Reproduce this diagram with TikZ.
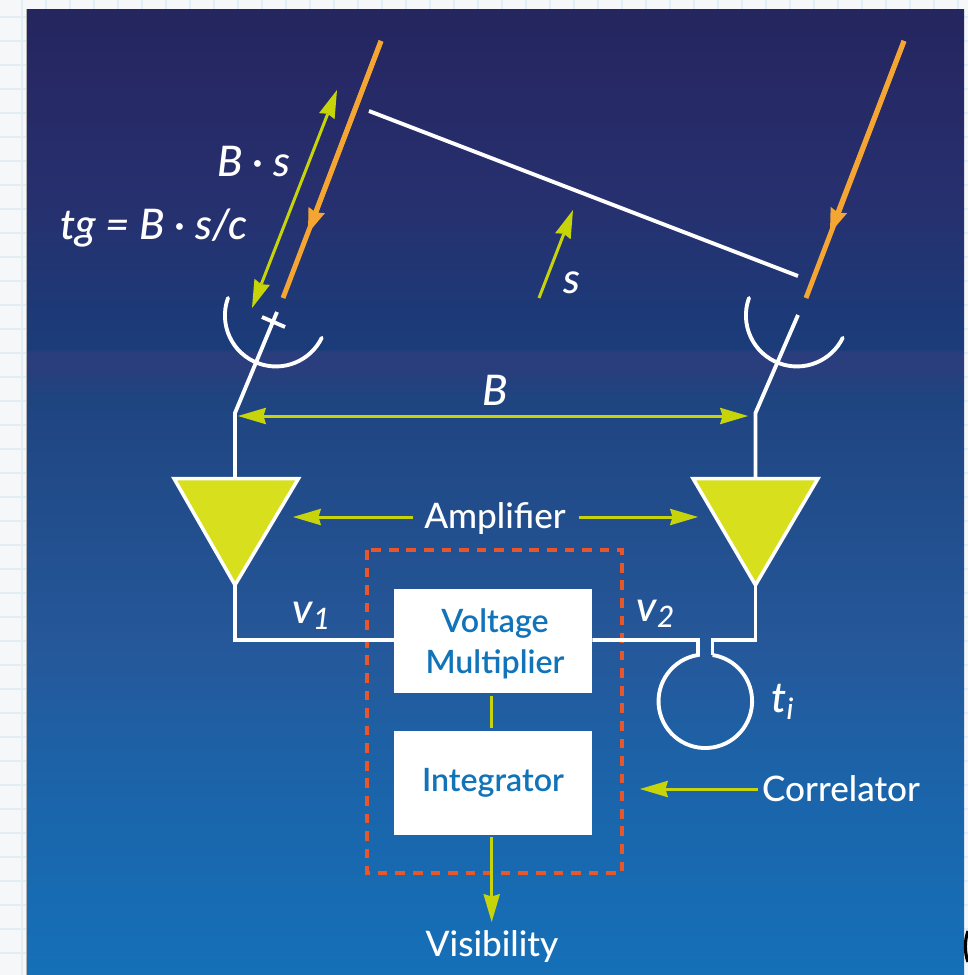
\documentclass[tikz,border=0pt]{standalone}
\usepackage{fontspec}
\setmainfont{Lato Medium}[ItalicFont={Lato Medium Italic}]
\newfontfamily\boxfont{Lato Semibold}
\usetikzlibrary{arrows.meta, positioning}
\definecolor{paperwhite}{RGB}{245, 247, 248}
\definecolor{gridblue}{RGB}{226, 238, 246}
\definecolor{limegreen}{RGB}{200, 212, 10}
\definecolor{ampyellow}{RGB}{216, 223, 28}
\definecolor{rayorange}{RGB}{245, 166, 50}
\definecolor{dashred}{RGB}{232, 86, 42}
\definecolor{boxblue}{RGB}{17, 115, 185}
\definecolor{sky0}{RGB}{37, 37, 95}
\definecolor{sky1}{RGB}{39, 48, 111}
\definecolor{sky2}{RGB}{26, 60, 122}
\definecolor{sky3}{RGB}{42, 61, 124}
\definecolor{sky4}{RGB}{31, 68, 128}
\definecolor{sky5}{RGB}{37, 88, 154}
\definecolor{sky6}{RGB}{26, 101, 171}
\definecolor{sky7}{RGB}{21, 112, 184}
\pgfdeclareverticalshading{panelsky}{100bp}{
  color(0bp)=(sky7); color(25bp)=(sky7); color(34bp)=(sky6); color(42bp)=(sky5);
  color(55bp)=(sky4); color(56.5bp)=(sky3); color(57.25bp)=(sky3); color(57.4bp)=(sky2);
  color(65bp)=(sky1); color(75bp)=(sky0); color(100bp)=(sky0)}
\tikzset{
  wire/.style={draw=white, line width=2.2pt},
  whitetext/.style={text=white, font=\fontsize{20}{23}\selectfont, inner sep=0pt},
  mathtext/.style={text=white, font=\fontsize{24}{27}\selectfont\itshape, inner sep=0pt},
  limetip/.style={arrows={-Stealth[length=16pt, width=9.5pt, inset=1.5pt, line width=0pt, fill=limegreen]}},
  limearrow/.style={draw=limegreen, line width=1.7pt, limetip},
  limeboth/.style={draw=limegreen, line width=1.7pt,
    arrows={Stealth[length=16pt, width=9.5pt, inset=1.5pt, line width=0pt, fill=limegreen]-Stealth[length=16pt, width=9.5pt, inset=1.5pt, line width=0pt, fill=limegreen]}},
  rayline/.style={draw=rayorange, line width=2.8pt},
  rayarrow/.style={rayline, arrows={-Stealth[length=14pt, width=10pt, inset=1.5pt, line width=0pt, fill=rayorange]}},
  ampshape/.style={fill=ampyellow, draw=white, line width=2pt, line join=miter},
  procbox/.style={fill=white, minimum width=198*0.02cm, minimum height=104*0.02cm, inner sep=0pt,
    align=center, text=boxblue, font=\fontsize{18.3}{23}\selectfont\boxfont}
}
\begin{document}
\begin{tikzpicture}[x=0.02cm, y=-0.02cm]
  \useasboundingbox (0,0) rectangle (968,975);
  \fill[paperwhite] (0,0) rectangle (968,975);
  % squared paper behind the panel
  \foreach \gx in {22,46,...,958} \draw[gridblue, line width=0.6pt] (\gx,0) -- (\gx,975);
  \foreach \gy in {17,41,...,970} \draw[gridblue, line width=0.6pt] (0,\gy) -- (968,\gy);
  \draw[gray!60, line width=0.6pt] (26.5,9) -- (26.5,975);
  \shade[shading=panelsky] (27,9) rectangle (964,975);
  \draw[black, line width=1.8pt] (968,931) .. controls (964.5,941) and (964.5,952) .. (968,962);

  % rays and baseline
  \coordinate (rayLtop) at (381,41);
  \coordinate (rayLmid) at (308,233);
  \coordinate (rayLend) at (283,298);
  \coordinate (rayRtop) at (904,41);
  \coordinate (rayRmid) at (830,233);
  \coordinate (rayRend) at (806,298);
  \draw[rayline] (rayLtop) -- (rayLend);
  \draw[rayarrow] (rayLtop) -- (rayLmid);
  \draw[rayline] (rayRtop) -- (rayRend);
  \draw[rayarrow] (rayRtop) -- (rayRmid);
  \coordinate (baseA) at (369,111);
  \coordinate (baseB) at (798,276);
  \draw[wire] (baseA) -- (baseB);
  \coordinate (delayA) at (337,90);
  \coordinate (delayB) at (252,308);
  \draw[limeboth] (delayA) -- (delayB);
  \coordinate (dirA) at (539,298);
  \coordinate (dirB) at (573,210);
  \draw[limearrow] (dirA) -- (dirB);

  \node[mathtext] (bslabel) at (254,162) {B · s};
  \node[mathtext] (tglabel) at (154,228) {tg = B · s/c};
  \node[mathtext] (slabel) at (572,283) {s};
  \node[mathtext] (blabel) at (495,390) {B};

  % dishes
  \draw[wire, line cap=round] (228,298) arc[start angle=200, end angle=26, radius=51];
  \draw[wire, line cap=round] (749,298) arc[start angle=200, end angle=26, radius=51];
  \coordinate (feedLtop) at (277,312);
  \coordinate (feedLbend) at (235,413);
  \coordinate (feedRtop) at (798,315);
  \coordinate (feedRbend) at (755.5,413);
  \coordinate (crossA) at (262,317);
  \coordinate (crossB) at (285,327);
  \draw[wire] (crossA) -- (crossB);

  % amplifiers
  \coordinate (ampLtop) at (235,479);
  \coordinate (ampLtip) at (235,585);
  \coordinate (ampRtop) at (755.5,479);
  \coordinate (ampRtip) at (755.5,585);
  \draw[wire] (feedLtop) -- (feedLbend) -- (ampLtop);
  \draw[wire] (feedRtop) -- (feedRbend) -- (ampRtop);
  \draw[ampshape] (174,478.5) -- (298.5,478.5) -- (ampLtip) -- cycle;
  \draw[ampshape] (693,478.5) -- (818,478.5) -- (ampRtip) -- cycle;
  \coordinate (barL) at (238,416);
  \coordinate (barR) at (748,416);
  \draw[limeboth] (barL) -- (barR);

  \node[whitetext] (amplabel) at (495,519) {Amplifier};
  \coordinate (ampLfrom) at (413,517);
  \coordinate (ampLhit) at (293,517);
  \coordinate (ampRfrom) at (579,517);
  \coordinate (ampRhit) at (698,517);
  \draw[limearrow] (ampLfrom) -- (ampLhit);
  \draw[limearrow] (ampRfrom) -- (ampRhit);

  % correlator
  \draw[draw=dashred, line width=2.3pt, dash pattern=on 5.5pt off 4.5pt] (367,550) rectangle (622,873);
  \node[procbox] (volt) at (493,641) {};
  \node[text=boxblue, font=\fontsize{18.3}{23}\selectfont\boxfont, align=center, inner sep=0pt] (voltlabel) at (495,644) {Voltage\\Multiplier};
  \node[procbox] (integ) at (493,782.5) {Integrator};
  \coordinate (linkA) at (491.7,696);
  \coordinate (linkB) at (491.7,728);
  \draw[draw=limegreen, line width=1.7pt] (linkA) -- (linkB);
  \coordinate (corfrom) at (758,789);
  \coordinate (corend) at (640,789);
  \node[whitetext] (corlabel) at (841,789) {Correlator};
  \draw[limearrow] (corfrom) -- (corend);
  \node[whitetext] (vislabel) at (492,947) {Visibility};
  \coordinate (visfrom) at (491.7,837);
  \coordinate (visend) at (491.7,922);
  \draw[limearrow] (visfrom) -- (visend);

  % signal wires and delay loop
  \coordinate (cornerL) at (235,640);
  \coordinate (cornerR) at (755.5,640);
  \coordinate (neckL) at (698,640);
  \coordinate (neckR) at (712.5,640);
  \draw[wire, line join=miter] (ampLtip) -- (cornerL) -- (volt.west |- cornerL);
  \draw[wire, line join=miter] (volt.east |- cornerL) -- (neckL) -- (698,655)
    arc[start angle=261, end angle=-81, radius=46.8];
  \draw[wire, line join=miter] (ampRtip) -- (cornerR) -- (neckR) -- (712.5,655);

  \node[mathtext] (vonelabel) at (312,616) {v\textsubscript{1}};
  \node[mathtext] (vtwolabel) at (656,614) {v\textsubscript{2}};
  \node[mathtext] (tilabel) at (783,702) {t\textsubscript{i}};
\end{tikzpicture}
\end{document}
